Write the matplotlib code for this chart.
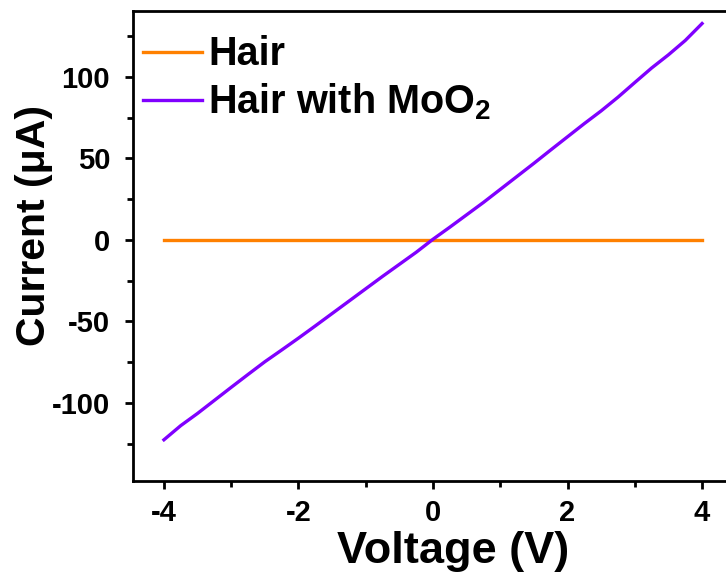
import numpy as np
import matplotlib
matplotlib.use('Agg')
import matplotlib.pyplot as plt
from matplotlib.ticker import MultipleLocator

plt.rcParams['font.family'] = 'Liberation Sans'
plt.rcParams['font.weight'] = 'bold'
plt.rcParams['axes.unicode_minus'] = False
plt.rcParams['mathtext.fontset'] = 'custom'
plt.rcParams['mathtext.rm'] = 'Liberation Sans:bold'
plt.rcParams['mathtext.it'] = 'Liberation Sans:bold'
plt.rcParams['mathtext.bf'] = 'Liberation Sans:bold'

##### I-V sweep data #####

voltage = [-4.0, -3.75, -3.5, -3.25, -3.0, -2.75, -2.5, -2.25, -2.0, -1.75,
           -1.5, -1.25, -1.0, -0.75, -0.5, -0.25, 0.0, 0.25, 0.5, 0.75,
           1.0, 1.25, 1.5, 1.75, 2.0, 2.25, 2.5, 2.75, 3.0, 3.25, 3.5, 3.75, 4.0]

# current in uA
hair = [0.0] * len(voltage)
hair_moo2 = [-122.7, -114.0, -106.5, -98.5, -90.5, -82.6, -74.8, -67.6, -60.3, -52.8,
             -45.2, -37.6, -30.0, -22.4, -15.0, -7.6, 0.4, 7.8, 15.4, 23.0,
             31.0, 39.0, 47.0, 55.2, 63.3, 71.4, 79.2, 87.6, 96.6, 105.5, 113.6, 122.4, 132.8]

##### plot #####

fig = plt.figure(figsize=(7.26, 5.75), dpi=100)
ax = fig.add_axes([133/726, 94/575, 600/726, 470/575])

ax.plot(voltage, hair, color='#FF8000', lw=2.4, label='Hair')
ax.plot(voltage, hair_moo2, color='#8000FF', lw=2.4, label='Hair with MoO$_2$')

ax.set_xlim(-4.46, 4.46)
ax.set_ylim(-148, 140.5)
ax.xaxis.set_major_locator(MultipleLocator(2))
ax.xaxis.set_minor_locator(MultipleLocator(1))
ax.yaxis.set_major_locator(MultipleLocator(50))
ax.yaxis.set_minor_locator(MultipleLocator(25))

for s in ax.spines.values():
    s.set_linewidth(2)
ax.tick_params(which='major', direction='out', length=6, width=2, labelsize=21, pad=7)
ax.tick_params(axis='y', which='major', pad=10.5)
ax.tick_params(which='minor', direction='out', length=4, width=2)

ax.set_xlabel('Voltage (V)', fontsize=32.5, fontweight='bold')
ax.set_ylabel('Current (\u03bcA)', fontsize=29.5, fontweight='bold')
ax.xaxis.set_label_coords(320/600, -50/470)
ax.yaxis.set_label_coords(-80/600, 256/470)

ax.legend(loc='upper left', bbox_to_anchor=(-0.017, 0.99), frameon=False, fontsize=28.5,
          handlelength=1.5, handletextpad=0.15, labelspacing=0.2,
          borderaxespad=0.3, borderpad=0.2)

plt.savefig('out.png', dpi=100)
